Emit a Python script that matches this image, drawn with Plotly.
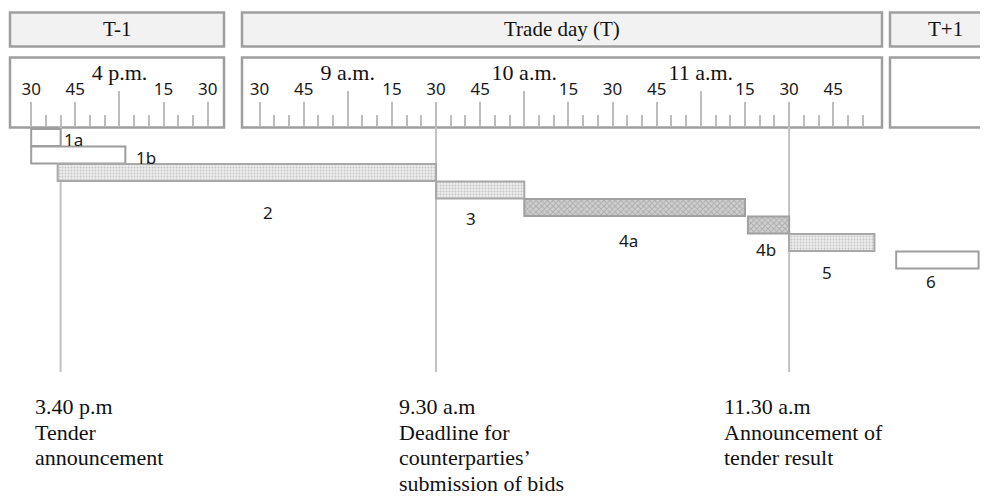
import plotly.graph_objects as go
from datetime import datetime, timedelta

# ---------------- data ----------------
DAY = {"T-1": "2024-01-01", "T": "2024-01-02", "T+1": "2024-01-03"}

steps = ["1a", "1b", "2", "3", "4a", "4b", "5", "6"]
start_day = ["T-1", "T-1", "T-1", "T", "T", "T", "T", "T+1"]
start_time = ["15:30", "15:30", "15:39", "09:30", "10:00", "11:16", "11:30", "09:02"]
end_day = ["T-1", "T-1", "T", "T", "T", "T", "T", "T+1"]
end_time = ["15:40", "16:02", "09:30", "10:00", "11:15", "11:30", "11:59", "09:30"]

day_headers = ["T-1", "Trade day (T)", "T+1"]

hour_tick_day = ["T-1", "T", "T", "T"]
hour_tick_time = ["16:00", "09:00", "10:00", "11:00"]
hour_tick_labels = ["4 p.m.", "9 a.m.", "10 a.m.", "11 a.m."]

ruler_day = ["T-1", "T"]
ruler_first = ["15:30", "08:30"]
ruler_last = ["16:30", "11:55"]
quarter_labels = {15: "15", 30: "30", 45: "45"}

milestone_day = ["T-1", "T", "T"]
milestone_time = ["15:40", "09:30", "11:30"]
milestone_text = [
    ["3.40 p.m", "Tender", "announcement"],
    ["9.30 a.m", "Deadline for", "counterparties\u2019", "submission of bids"],
    ["11.30 a.m", "Announcement of", "tender result"],
]

# ---------------- helpers ----------------
def ts(day, hm):
    return f"{DAY[day]} {hm}:00"

def dt(day, hm):
    return datetime.strptime(ts(day, hm), "%Y-%m-%d %H:%M:%S")

# ---------------- style / layout ----------------
PAGE_OFF = 8                      # page body margin of the html page
W, H = 988 - PAGE_OFF, 502 - PAGE_OFF
PLOT_L, PLOT_R, PLOT_T, PLOT_B = 10, 988, 127, 372   # target picture pixels
ML, MR = PLOT_L - PAGE_OFF, 988 - PLOT_R
MT, MB = PLOT_T - PAGE_OFF, H - (PLOT_B - PAGE_OFF)
PW, PH = PLOT_R - PLOT_L, PLOT_B - PLOT_T

def px_x(p):
    return (p - PLOT_L) / PW

def px_y(p):
    return (PLOT_B - p) / PH

GRID = "#bdbdbd"
BORDER = "#9e9e9e"
SERIF = "Liberation Serif"
SANS = "Noto Sans"

fill_kind = {"1a": "open", "1b": "open", "2": "dots", "3": "dots",
             "4a": "cross", "4b": "cross", "5": "dots", "6": "open"}
label_pos = {  # (xanchor, xshift, yshift) relative to bar end
    "1a": ("left", 1, -1.5), "1b": ("left", 9, -2.7), "2": ("center", -168, -39.5),
    "3": ("center", -53, -28.3), "4a": ("center", -116, -32.5), "4b": ("center", -23, -24.3),
    "5": ("center", -47, -30.2), "6": ("center", -47.5, -21.7),
}
milestone_xshift = [-28, -39, -67]

x_range = ["2024-01-01 15:22:48", "2024-01-03 09:33:12"]
x_breaks = [
    dict(bounds=["2024-01-01 16:38:36", "2024-01-02 08:21:00"]),
    dict(bounds=["2024-01-02 12:03:00", "2024-01-03 08:58:36"]),
]

fig = go.Figure()

for i, s in enumerate(steps):
    b = dt(start_day[i], start_time[i])
    e = dt(end_day[i], end_time[i])
    dur = (e - b).total_seconds() * 1000
    kind = fill_kind[s]
    if kind == "open":
        marker = dict(color="white", line=dict(color=BORDER, width=2))
    elif kind == "dots":
        marker = dict(color="#ececec", line=dict(color="#a8a8a8", width=2),
                      pattern=dict(shape=".", fgcolor="#a0a0a0", bgcolor="#ececec",
                                   size=3, solidity=0.35))
    else:
        marker = dict(color="#c4c4c4", line=dict(color="#a0a0a0", width=2),
                      pattern=dict(shape="x", fgcolor="#8a8a8a", bgcolor="#d0d0d0",
                                   size=4, solidity=0.45))
    fig.add_trace(go.Bar(
        y=[s], x=[dur], base=[ts(start_day[i], start_time[i])],
        orientation="h", width=0.96, marker=marker, showlegend=False,
        hoverinfo="skip",
    ))

# invisible trace so that the hour axis is drawn
fig.add_trace(go.Scatter(x=[ts("T", "09:00")], y=[steps[0]], xaxis="x2", yaxis="y",
                         mode="markers", marker=dict(opacity=0), showlegend=False,
                         hoverinfo="skip"))

# ruler ticks
quarter_vals, quarter_text, minor_vals = [], [], []
for d, f, l in zip(ruler_day, ruler_first, ruler_last):
    t, t1 = dt(d, f), dt(d, l)
    while t <= t1:
        if t.minute in quarter_labels:
            quarter_vals.append(t.strftime("%Y-%m-%d %H:%M:%S"))
            quarter_text.append(quarter_labels[t.minute])
        elif t.minute % 5 == 0 and t.minute != 0:
            minor_vals.append(t.strftime("%Y-%m-%d %H:%M:%S"))
        t += timedelta(minutes=5)

hour_vals = [ts(d, h) for d, h in zip(hour_tick_day, hour_tick_time)]

shapes = []
box_x = [(10, 224), (242, 882), (890, 1010)]
for (x0, x1) in box_x:
    shapes.append(dict(type="rect", xref="paper", yref="paper", layer="below",
                       x0=px_x(x0), x1=px_x(x1), y0=px_y(46.5), y1=px_y(12.5),
                       fillcolor="#f2f2f2", line=dict(color=BORDER, width=2.5)))
    shapes.append(dict(type="rect", xref="paper", yref="paper", layer="below",
                       x0=px_x(x0), x1=px_x(x1), y0=px_y(127.5), y1=px_y(57.5),
                       fillcolor="white", line=dict(color=BORDER, width=2.5)))
for d, t in zip(milestone_day, milestone_time):
    shapes.append(dict(type="line", xref="x", yref="paper", layer="below",
                       x0=ts(d, t), x1=ts(d, t), y0=0, y1=1,
                       line=dict(color="#c2c2c2", width=2)))

annotations = []
for (x0, x1), txt in zip(box_x, day_headers):
    cx = (x0 + x1) / 2 if txt != "T+1" else 945
    annotations.append(dict(text=txt, xref="paper", yref="paper", x=px_x(cx), y=px_y(29.5),
                            xanchor="center", yanchor="middle", showarrow=False,
                            font=dict(family=SERIF, size=21, color="#111")))
for i, s in enumerate(steps):
    xa, xs, ys = label_pos[s]
    annotations.append(dict(text=s, xref="x", yref="y", x=ts(end_day[i], end_time[i]), y=i,
                            xanchor=xa, yanchor="middle", xshift=xs, yshift=ys,
                            showarrow=False, font=dict(family=SANS, size=17, color="#1a1a1a")))
for k, (d, t) in enumerate(zip(milestone_day, milestone_time)):
    for j, line in enumerate(milestone_text[k]):
        annotations.append(dict(text=line, xref="x", yref="paper", x=ts(d, t), y=0,
                                xanchor="left", yanchor="middle",
                                xshift=milestone_xshift[k], yshift=-(34.5 + 25.7 * j),
                                showarrow=False,
                                font=dict(family=SERIF, size=22, color="#111")))

fig.update_layout(
    width=W, height=H,
    margin=dict(l=ML, r=MR, t=MT, b=MB, pad=0),
    paper_bgcolor="white", plot_bgcolor="rgba(0,0,0,0)",
    barmode="overlay", showlegend=False,
    xaxis=dict(type="date", side="top", anchor="y", range=x_range, rangebreaks=x_breaks,
               showgrid=False, showline=False, zeroline=False,
               tickmode="array", tickvals=quarter_vals, ticktext=quarter_text,
               ticks="outside", ticklen=24, tickwidth=1.5, tickcolor=GRID,
               tickfont=dict(family=SANS, size=17, color="#1a1a1a"),
               minor=dict(tickmode="array", tickvals=minor_vals, ticks="outside",
                          ticklen=11, tickwidth=1.5, tickcolor=GRID, showgrid=False)),
    xaxis2=dict(type="date", side="top", anchor="y", overlaying="x", range=x_range,
                rangebreaks=x_breaks, showgrid=False, showline=False, zeroline=False,
                tickmode="array", tickvals=hour_vals, ticktext=hour_tick_labels,
                ticks="outside", ticklen=35, tickwidth=1.5, tickcolor=GRID,
                ticklabelstandoff=2,
                tickfont=dict(family=SERIF, size=22, color="#111")),
    yaxis=dict(type="category", categoryorder="array", categoryarray=steps,
               range=[13.4, -0.6], showticklabels=False, showgrid=False,
               zeroline=False, showline=False, ticks=""),
    shapes=shapes, annotations=annotations,
)

fig.write_html("out.html")
